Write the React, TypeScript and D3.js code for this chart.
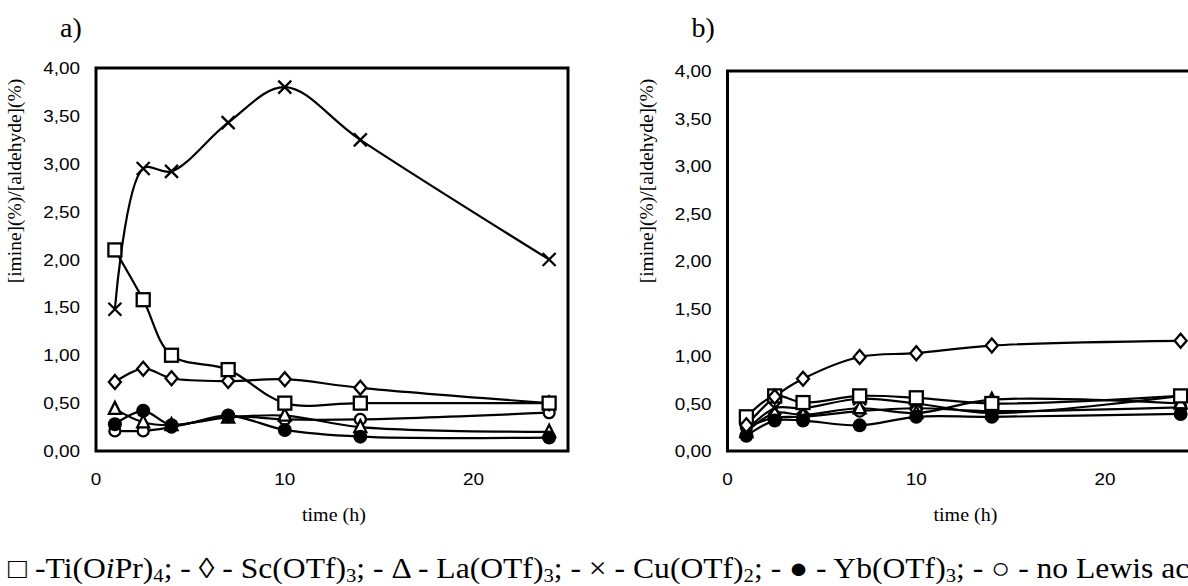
import React from "react";
import * as d3 from "d3";

const W = 1188;
const H = 586;

const times = [1, 2.5, 4, 7, 10, 14, 24];
const yTicks = [0, 0.5, 1, 1.5, 2, 2.5, 3, 3.5, 4];
const xTicks = [0, 10, 20];

// panel a)
const tiA = [2.1, 1.58, 1.0, 0.85, 0.5, 0.5, 0.5];
const scA = [0.72, 0.86, 0.76, 0.73, 0.75, 0.66, 0.5];
const laA = [0.44, 0.3, 0.27, 0.35, 0.37, 0.25, 0.2];
const cuA = [1.48, 2.95, 2.92, 3.43, 3.8, 3.25, 2.0];
const ybA = [0.28, 0.42, 0.27, 0.37, 0.22, 0.15, 0.14];
const noA = [0.21, 0.21, 0.25, 0.36, 0.33, 0.33, 0.4];

// panel b)
const tiB = [0.36, 0.58, 0.51, 0.58, 0.56, 0.5, 0.58];
const scB = [0.27, 0.57, 0.76, 0.99, 1.03, 1.11, 1.16];
const laB = [0.2, 0.4, 0.38, 0.45, 0.4, 0.54, 0.5];
const cuB = [0.22, 0.45, 0.45, 0.55, 0.5, 0.4, 0.58];
const ybB = [0.16, 0.32, 0.32, 0.27, 0.36, 0.36, 0.39];
const noB = [0.25, 0.35, 0.36, 0.42, 0.45, 0.42, 0.46];

const SANS = "'Liberation Sans', Arial, sans-serif";
const SERIF = "'Liberation Serif', 'Times New Roman', serif";

type Series = { marker: string; values: number[] };

const seriesA: Series[] = [
  { marker: "circle", values: noA },
  { marker: "triangle", values: laA },
  { marker: "dot", values: ybA },
  { marker: "diamond", values: scA },
  { marker: "square", values: tiA },
  { marker: "cross", values: cuA },
];

const seriesB: Series[] = [
  { marker: "circle", values: noB },
  { marker: "triangle", values: laB },
  { marker: "cross", values: cuB },
  { marker: "dot", values: ybB },
  { marker: "square", values: tiB },
  { marker: "diamond", values: scB },
];

function Marker({ type, x, y }: { type: string; x: number; y: number }) {
  const sw = 2.3;
  if (type === "square")
    return <rect x={x - 6.5} y={y - 6.5} width={13} height={13} fill="#fff" stroke="#000" strokeWidth={sw} />;
  if (type === "diamond")
    return (
      <path
        d={`M${x},${y - 7}L${x + 6},${y}L${x},${y + 7}L${x - 6},${y}Z`}
        fill="#fff"
        stroke="#000"
        strokeWidth={sw}
      />
    );
  if (type === "triangle")
    return (
      <path
        d={`M${x},${y - 7}L${x + 6},${y + 5}L${x - 6},${y + 5}Z`}
        fill="#fff"
        stroke="#000"
        strokeWidth={sw}
      />
    );
  if (type === "cross")
    return (
      <path
        d={`M${x - 6.5},${y - 6.5}L${x + 6.5},${y + 6.5}M${x - 6.5},${y + 6.5}L${x + 6.5},${y - 6.5}`}
        stroke="#000"
        strokeWidth={sw}
      />
    );
  if (type === "dot") return <circle cx={x} cy={y} r={7} fill="#000" />;
  return <circle cx={x} cy={y} r={5.5} fill="#fff" stroke="#000" strokeWidth={sw} />;
}

function Panel({
  left,
  top,
  bottom,
  label,
  series,
}: {
  left: number;
  top: number;
  bottom: number;
  label: string;
  series: Series[];
}) {
  const x = d3.scaleLinear().domain([0, 25]).range([left, left + 472]);
  const y = d3.scaleLinear().domain([0, 4]).range([bottom, top]);
  const line = d3
    .line<number>()
    .x((_, i) => x(times[i]))
    .y((d) => y(d))
    .curve(d3.curveCatmullRom.alpha(0.5));
  const fmt = (v: number) => v.toFixed(2).replace(".", ",");

  return (
    <g>
      <text x={left - 36} y={37} fontFamily={SERIF} fontSize={28}>
        {label}
      </text>
      {yTicks.map((t) => (
        <text
          key={t}
          transform={`translate(${left - 16},${y(t) + 6}) scale(1.18,1)`}
          textAnchor="end"
          fontFamily={SANS}
          fontSize={16}
        >
          {fmt(t)}
        </text>
      ))}
      {xTicks.map((t) => (
        <text
          key={t}
          transform={`translate(${x(t)},${bottom + 34}) scale(1.18,1)`}
          textAnchor="middle"
          fontFamily={SANS}
          fontSize={16}
        >
          {t}
        </text>
      ))}
      <text
        transform={`translate(${left - 75},181) rotate(-90)`}
        textAnchor="middle"
        fontFamily={SERIF}
        fontSize={19.5}
      >
        [imine](%)/[aldehyde](%)
      </text>
      <text
        transform={`translate(${x(12.6)},${bottom + 70}) scale(1.08,1)`}
        textAnchor="middle"
        fontFamily={SERIF}
        fontSize={18.5}
      >
        time (h)
      </text>
      {series.map((s, i) => (
        <path key={"l" + i} d={line(s.values) || ""} fill="none" stroke="#000" strokeWidth={2.2} />
      ))}
      {series.map((s, i) => (
        <g key={"m" + i}>
          {s.values.map((v, j) => (
            <Marker key={j} type={s.marker} x={x(times[j])} y={y(v)} />
          ))}
        </g>
      ))}
      <rect
        x={x(0)}
        y={y(4)}
        width={x(25) - x(0)}
        height={y(0) - y(4)}
        fill="none"
        stroke="#000"
        strokeWidth={3}
      />
    </g>
  );
}

export default function App() {
  return (
    <svg width={W} height={H} style={{ position: "absolute", left: 0, top: 0, background: "#fff" }}>
      <rect width={W} height={H} fill="#fff" />
      <Panel left={96} top={68} bottom={451} label="a)" series={seriesA} />
      <Panel left={727.5} top={71} bottom={451} label="b)" series={seriesB} />
      <text transform="translate(8,578) scale(1.09,1)" fontFamily={SERIF} fontSize={29}>
        □ -Ti(O<tspan fontStyle="italic">i</tspan>Pr)
        <tspan fontSize={19} dy={4}>4</tspan>
        <tspan dy={-4}>; - ◊ - Sc(OTf)</tspan>
        <tspan fontSize={19} dy={4}>3</tspan>
        <tspan dy={-4}>; - Δ - La(OTf)</tspan>
        <tspan fontSize={19} dy={4}>3</tspan>
        <tspan dy={-4}>; - × - Cu(OTf)</tspan>
        <tspan fontSize={19} dy={4}>2</tspan>
        <tspan dy={-4}>; - ● - Yb(OTf)</tspan>
        <tspan fontSize={19} dy={4}>3</tspan>
        <tspan dy={-4}>; - ○ - no Lewis acid</tspan>
      </text>
    </svg>
  );
}
